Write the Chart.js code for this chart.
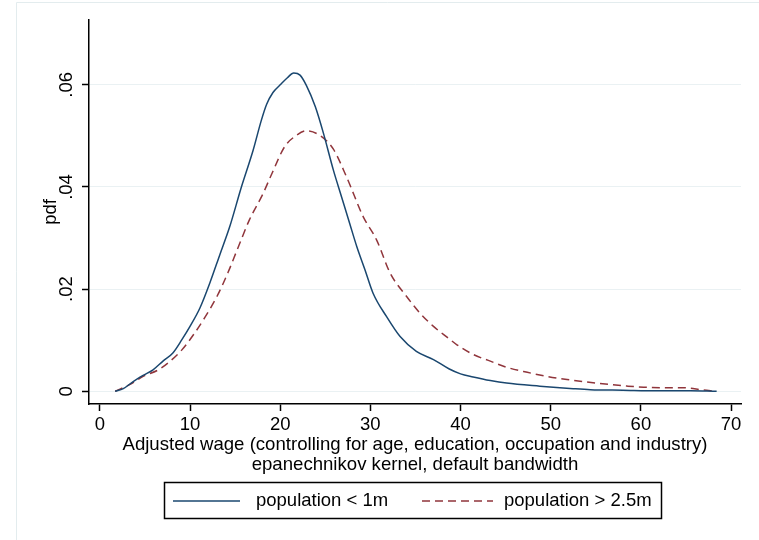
<!DOCTYPE html>
<html>
<head>
<meta charset="utf-8">
<script src="https://cdn.jsdelivr.net/npm/chart.js@4.4.1/dist/chart.umd.min.js"></script>
<style>
  html, body { margin: 0; padding: 0; background: #fff; }
  #wrap { width: 759px; height: 540px; position: relative; }
</style>
</head>
<body>
<div id="wrap"><canvas id="myChart"></canvas></div>
<script>
// kernel density, population < 1m
var smallX = [1.7, 2.6, 3.7, 4.8, 5.9, 7.0, 8.1, 9.1, 10.0, 11.1, 12.2, 13.3, 14.4, 15.7, 17.0, 17.9, 18.5, 19.2, 20.0, 20.8, 21.5, 22.2, 22.9, 23.9, 24.8, 25.9, 26.8, 27.7, 28.5, 29.4, 30.3, 31.8, 33.3, 35.1, 37.0, 38.7, 40.0, 41.4, 43.3, 45.1, 48.8, 52.5, 54.4, 58.0, 61.8, 65.5, 68.4];
var smallY = [0, 0.0005, 0.0019, 0.0031, 0.0042, 0.0059, 0.0075, 0.0101, 0.0127, 0.0163, 0.0212, 0.0267, 0.0322, 0.0400, 0.0472, 0.0530, 0.0562, 0.0585, 0.0600, 0.0614, 0.0623, 0.0619, 0.0599, 0.0557, 0.0505, 0.0433, 0.0381, 0.0329, 0.0283, 0.0238, 0.0192, 0.0146, 0.0107, 0.0078, 0.0062, 0.0044, 0.0034, 0.0028, 0.0021, 0.0016, 0.0010, 0.0005, 0.0003, 0.0002, 0.0001, 0.0001, 0];

// kernel density, population > 2.5m
var bigX = [1.7, 3.3, 4.8, 6.5, 7.8, 9.1, 10.4, 11.7, 13.0, 14.2, 15.3, 16.6, 18.1, 19.1, 20.5, 21.8, 22.9, 24.4, 25.9, 27.4, 29.2, 30.7, 32.2, 34.0, 35.5, 37.0, 38.5, 39.6, 41.4, 43.3, 45.1, 47.4, 49.6, 51.8, 54.0, 56.6, 58.5, 60.3, 62.2, 64.0, 65.5, 66.6, 68.3];
var bigY = [0, 0.0013, 0.0029, 0.0042, 0.0059, 0.0081, 0.0111, 0.0146, 0.0186, 0.0232, 0.0280, 0.0336, 0.0387, 0.0427, 0.0479, 0.0501, 0.0510, 0.0501, 0.0474, 0.0418, 0.0342, 0.0296, 0.0231, 0.0186, 0.0153, 0.0127, 0.0106, 0.0091, 0.0072, 0.0059, 0.0047, 0.0037, 0.0029, 0.0023, 0.0018, 0.0013, 0.0010, 0.0008, 0.0007, 0.0007, 0.0006, 0.0003, 0];

var seriesNames = ['population < 1m', 'population > 2.5m'];
var xTicks = [0, 10, 20, 30, 40, 50, 60, 70];
var yTicks = [0, 0.02, 0.04, 0.06];
var yTickLabels = ['0', '.02', '.04', '.06'];
var xTitle = ['Adjusted wage (controlling for age, education, occupation and industry)', 'epanechnikov kernel, default bandwidth'];

var FONT = "'Liberation Sans', Arial, sans-serif";
var navy = '#1a476f';
var maroon = '#90353b';

function pts(xs, ys) {
  return xs.map(function (x, i) { return { x: x, y: ys[i] }; });
}

// white background + faint outer frame
var bgPlugin = {
  id: 'bg',
  beforeDraw: function (chart) {
    var ctx = chart.ctx;
    ctx.save();
    ctx.fillStyle = '#fff';
    ctx.fillRect(0, 0, chart.width, chart.height);
    ctx.strokeStyle = '#e3ecee';
    ctx.lineWidth = 1;
    ctx.beginPath();
    ctx.moveTo(16.5, 2.5); ctx.lineTo(16.5, chart.height);
    ctx.moveTo(16.5, 2.5); ctx.lineTo(chart.width, 2.5);
    ctx.stroke();
    ctx.restore();
  }
};

// rotated y tick labels + boxed legend
var extrasPlugin = {
  id: 'extras',
  afterDraw: function (chart) {
    var ctx = chart.ctx;
    var ys = chart.scales.y;
    ctx.save();
    ctx.fillStyle = '#000';
    ctx.font = '18.5px ' + FONT;
    ctx.textAlign = 'center';
    ctx.textBaseline = 'middle';
    yTicks.forEach(function (v, i) {
      ctx.save();
      ctx.translate(67, ys.getPixelForValue(v));
      ctx.rotate(-Math.PI / 2);
      ctx.fillText(yTickLabels[i], 0, 0);
      ctx.restore();
    });

    // legend
    ctx.strokeStyle = '#000';
    ctx.lineWidth = 1.5;
    ctx.strokeRect(164.5, 482.5, 497, 36);
    var ly = 501;
    ctx.strokeStyle = navy;
    ctx.beginPath(); ctx.moveTo(173, ly); ctx.lineTo(240, ly); ctx.stroke();
    ctx.strokeStyle = maroon;
    ctx.setLineDash([8, 5]);
    ctx.beginPath(); ctx.moveTo(422, ly); ctx.lineTo(493, ly); ctx.stroke();
    ctx.setLineDash([]);
    ctx.textAlign = 'left';
    ctx.fillText(seriesNames[0], 256, ly);
    ctx.fillText(seriesNames[1], 504, ly);
    ctx.restore();
  }
};

var data = {
  datasets: [
    {
      label: seriesNames[0],
      data: pts(smallX, smallY),
      borderColor: navy,
      borderWidth: 1.5,
      pointRadius: 0,
      fill: false,
      cubicInterpolationMode: 'monotone'
    },
    {
      label: seriesNames[1],
      data: pts(bigX, bigY),
      borderColor: maroon,
      borderWidth: 1.5,
      borderDash: [8, 5],
      pointRadius: 0,
      fill: false,
      cubicInterpolationMode: 'monotone'
    }
  ]
};

var config = {
  type: 'line',
  data: data,
  options: {
    responsive: false,
    animation: false,
    layout: { padding: { left: 0, right: 18, top: 20, bottom: 66 } },
    plugins: {
      legend: { display: false },
      tooltip: { enabled: false }
    },
    scales: {
      x: {
        type: 'linear',
        min: -1.2,
        max: 71.1,
        afterBuildTicks: function (scale) {
          scale.ticks = xTicks.map(function (v) { return { value: v }; });
        },
        afterFit: function (scale) { scale.height = 70; },
        grid: {
          drawOnChartArea: false,
          tickColor: '#000',
          tickLength: 7,
          tickWidth: 1.5
        },
        border: { display: true, color: '#000', width: 1.5 },
        ticks: {
          color: '#000',
          padding: 3,
          maxRotation: 0,
          font: { family: FONT, size: 18.5 }
        },
        title: {
          display: true,
          text: xTitle,
          color: '#000',
          padding: { top: 0, bottom: 0 },
          font: { family: FONT, size: 18.6, lineHeight: 1.03 }
        }
      },
      y: {
        min: -0.0025,
        max: 0.0727,
        afterBuildTicks: function (scale) {
          scale.ticks = yTicks.map(function (v) { return { value: v }; });
        },
        afterFit: function (scale) { scale.width = 89; },
        grid: {
          color: '#eaf1f3',
          lineWidth: 1,
          tickColor: '#000',
          tickLength: 7,
          tickWidth: 1.5
        },
        border: { display: true, color: '#000', width: 1.5 },
        ticks: { display: false },
        title: {
          display: true,
          text: 'pdf',
          color: '#000',
          padding: { top: 40, bottom: 0 },
          font: { family: FONT, size: 18.5, lineHeight: 1.2 }
        }
      }
    }
  },
  plugins: [bgPlugin, extrasPlugin]
};

var canvas = document.getElementById('myChart');
canvas.width = 759;
canvas.height = 540;
var myChart = new Chart(canvas, config);
</script>
</body>
</html>
